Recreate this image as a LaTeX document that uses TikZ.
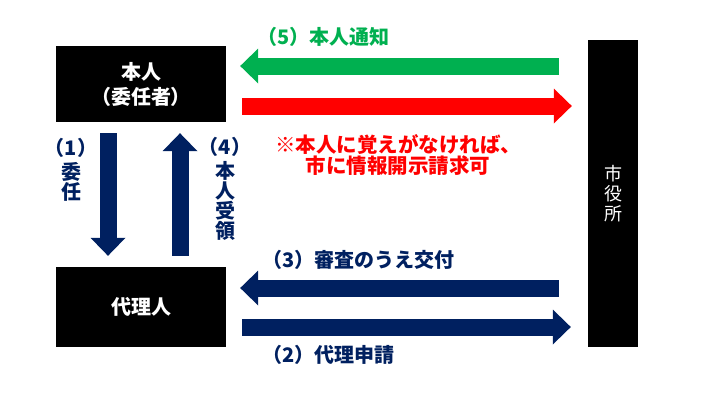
\documentclass[tikz,border=0pt]{standalone}
\usepackage{fontspec}
\setmainfont{Noto Sans CJK JP}
\newfontfamily\palfont{Noto Sans CJK JP}[RawFeature=+palt]
\usetikzlibrary{arrows.meta,positioning}
\definecolor{officenavy}{RGB}{0,32,96}
\definecolor{officegreen}{RGB}{0,176,80}
\definecolor{officered}{RGB}{255,0,0}

\begin{document}
\begin{tikzpicture}[x=1bp, y=-1bp,
        party/.style={fill=black, text=white, align=center, inner sep=0pt},
        flow/.style={line width=17bp, -{Triangle[length=18bp, width=35bp, line width=0pt]}},
        lbl/.style={font=\fontsize{20bp}{20bp}\selectfont\bfseries, inner sep=0pt}
    ]
        \useasboundingbox (0,0) rectangle (720,405);

        % 1. The parties
        \node[party, minimum width=170bp, minimum height=76bp,
              font=\palfont\fontsize{20bp}{25bp}\selectfont\bfseries] (self) at (141,84) {本人\\（委任者）};
        \node[party, minimum width=170bp, minimum height=80bp,
              font=\fontsize{20bp}{25bp}\selectfont\bfseries] (proxy) at (141,307) {代理人};
        \node[party, minimum width=50bp, minimum height=307bp,
              font=\fontsize{18bp}{20bp}\selectfont] (city) at (613,193.5) {市\\役\\所};

        % 2. Self <-> Proxy
        \draw[flow, officenavy, shorten <=11bp, shorten >=11bp] ([xshift=-33bp]self.south) -- ([xshift=-33bp]proxy.north);
        \draw[flow, officenavy, shorten <=11bp, shorten >=11bp] ([xshift=39bp]proxy.north) -- ([xshift=39bp]self.south);
        \node[lbl, officenavy, align=center] (lab1) at (71,170) {（1）\\[4bp]委\\任};
        \node[lbl, officenavy, align=center] (lab4) at (225,189) {（4）\\[4bp]本\\人\\受\\領};

        % 3. Self <-> City
        \draw[flow, officegreen, shorten <=29bp, shorten >=14bp] (city.west |- 0,66) -- (self.east |- 0,66);
        \node[lbl, officegreen, anchor=west] (lab5) at (257,37) {（5）本人通知};
        \draw[flow, officered, shorten <=16bp, shorten >=16bp] (self.east |- 0,106) -- (city.west |- 0,106);
        \node[lbl, officered, align=center, font=\fontsize{20.5bp}{19.5bp}\selectfont\bfseries] (note) at (398,155) {※本人に覚えがなければ、\\市に情報開示請求可};

        % 4. Proxy <-> City
        \draw[flow, officenavy, shorten <=29bp, shorten >=14bp] (city.west |- 0,288) -- (proxy.east |- 0,288);
        \node[lbl, officenavy, anchor=west] (lab3) at (262,260) {（3）審査のうえ交付};
        \draw[flow, officenavy, shorten <=16bp, shorten >=17bp] (proxy.east |- 0,327) -- (city.west |- 0,327);
        \node[lbl, officenavy, anchor=west] (lab2) at (262,355) {（2）代理申請};

    \end{tikzpicture}
\end{document}
